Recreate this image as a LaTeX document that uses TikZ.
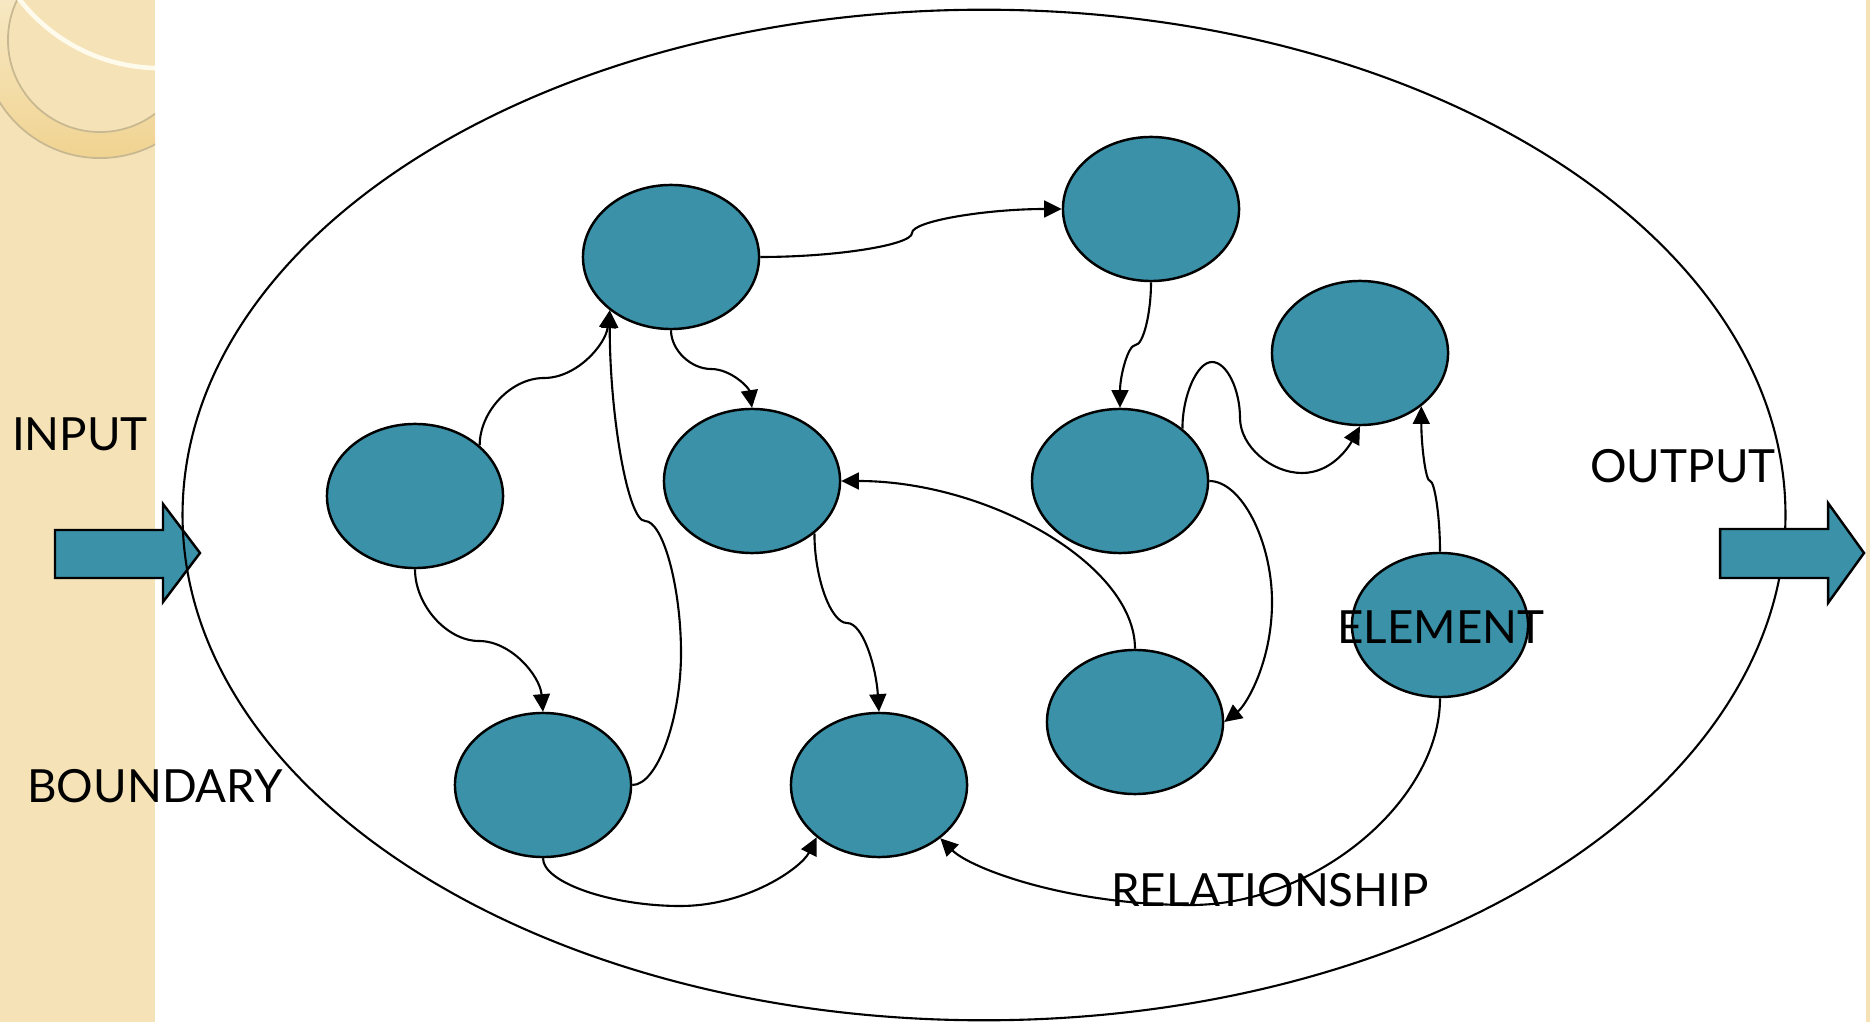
\documentclass[tikz,border=0pt]{standalone}
\usepackage{fontspec}
\setmainfont{Lato}
\usetikzlibrary{shapes.geometric,arrows.meta}
\definecolor{tealfill}{RGB}{58,145,168}
\definecolor{stripbeige}{RGB}{245,227,183}
\definecolor{ringgold}{RGB}{240,211,145}
\definecolor{ringlight}{RGB}{251,243,220}
\definecolor{ringedge}{RGB}{200,184,146}
\definecolor{arcwhite}{RGB}{255,251,236}
\tikzset{
  elem/.style={ellipse, draw=black, line width=0.7pt, fill=tealfill,
    minimum width=1.76cm, minimum height=1.44cm, inner sep=0pt},
  conn/.style={line width=0.6pt, -{Triangle[length=5pt,width=4.8pt]}},
  lbl/.style={inner sep=0pt, font=\fontsize{13}{15}\selectfont},
  blockarrow/.style={draw=black, line width=0.7pt, fill=tealfill, line join=miter}
}
\begin{document}
\begin{tikzpicture}[x=0.01cm, y=-0.01cm]
\useasboundingbox (0,0) rectangle (1870,1022);
% left decorative strip
\begin{scope}
  \clip (0,0) rectangle (155,1022);
  \fill[stripbeige] (0,0) rectangle (155,1022);
  \shade[even odd rule, top color=ringlight, bottom color=ringgold]
    (100,40) circle (1.18cm) (100,40) circle (0.92cm);
  \draw[ringedge, line width=0.5pt] (100,40) circle (1.18cm);
  \draw[ringedge, line width=0.5pt] (100,40) circle (0.92cm);
  \draw[arcwhite, line width=1.3pt] (160,-110) circle (1.78cm);
\end{scope}
\fill[stripbeige] (1866,0) rectangle (1870,1022);

% input arrow
\draw[blockarrow] (55,530) -- (163,530) -- (163,504) -- (200,553) -- (163,602) -- (163,578) -- (55,578) -- cycle;
% boundary
\draw[line width=0.6pt] (984,515) ellipse (8.01cm and 5.05cm);
% output arrow
\draw[blockarrow] (1720,529) -- (1828,529) -- (1828,503) -- (1864,553) -- (1828,603) -- (1828,578) -- (1720,578) -- cycle;

% elements
\node[elem] (N1) at (671,257) {};
\node[elem] (N2) at (1151,209) {};
\node[elem] (N3) at (1360,353) {};
\node[elem] (N4) at (415,496) {};
\node[elem] (N5) at (752,481) {};
\node[elem] (N6) at (1120,481) {};
\node[elem] (N7) at (1440,625) {};
\node[elem] (N8) at (1135,722) {};
\node[elem] (N9) at (543,785) {};
\node[elem] (N10) at (879,785) {};

% bend points
\coordinate (m1) at (912,233);
\coordinate (m2) at (711,369);
\coordinate (m3) at (544,378);
\coordinate (m4) at (479,641);
\coordinate (m5a) at (681,653);
\coordinate (m5b) at (645,521);
\coordinate (m6) at (847,623);
\coordinate (m7) at (1135.5,345);
\coordinate (m8a) at (1212,362);
\coordinate (m8b) at (1240,418);
\coordinate (m8c) at (1302,473);
\coordinate (m9) at (1272,602);
\coordinate (m11) at (1430,481);
\coordinate (m12) at (1191,905);
\coordinate (m13) at (680,906);

% relationships
\draw[conn] (N1.east) .. controls +(76,0) and +(0,12) .. (m1) .. controls +(0,-12) and +(-75,0) .. (N2.west);
\draw[conn] (N1.south) .. controls +(0,20) and +(-20,0) .. (m2) .. controls +(20,0) and +(-3,-20) .. (N5.north);
\draw[conn] (N4.38) .. controls +(0,-34) and +(-33,0) .. (m3) .. controls +(33,0) and +(-4,34) .. (N1.221);
\draw[conn] (N4.south) .. controls +(0,36) and +(-32,0) .. (m4) .. controls +(32,0) and +(-3,-36) .. (N9.north);
\draw[conn] (N9.east) .. controls +(25,0) and +(0,66) .. (m5a) .. controls +(0,-66) and +(18,0) .. (m5b) .. controls +(-17,0) and +(0,106) .. (N1.221);
\draw[conn] (N5.-40) .. controls +(0,45) and +(-16,0) .. (m6) .. controls +(16,0) and +(-3,-45) .. (N10.north);
\draw[conn] (N2.south) .. controls +(0,32) and +(7.5,0) .. (m7) .. controls +(-7.5,0) and +(0,-32) .. (N6.north);
\draw[conn] (N6.40) .. controls +(0,-33) and +(-15,0) .. (m8a) .. controls +(15,0) and +(0,-28) .. (m8b) .. controls +(0,28) and +(-31,0) .. (m8c) .. controls +(29,0) and +(-12,22) .. (N3.south);
\draw[conn] (N6.east) .. controls +(32,0) and +(0,-61) .. (m9) .. controls +(0,60) and +(22,-17) .. (N8.east);
\draw[conn] (N8.north) .. controls +(0,-84) and +(147,0) .. (N5.east);
\draw[conn] (N7.north) .. controls +(0,-36) and +(4.5,0) .. (m11) .. controls +(-4.5,0) and +(0,38) .. (N3.-41);
\draw[conn] (N7.south) .. controls +(0,103) and +(124,0) .. (m12) .. controls +(-124,0) and +(30,30) .. (N10.-41);
\draw[conn] (N9.south) .. controls +(0,24.5) and +(-68,0) .. (m13) .. controls +(68,0) and +(-15,30) .. (N10.220);

% labels
\node[lbl] (tin) at (80,434) {INPUT};
\node[lbl] (tbound) at (155,786) {BOUNDARY};
\node[lbl] (tout) at (1683,466) {OUTPUT};
\node[lbl] (telem) at (1441,627) {ELEMENT};
\node[lbl] (trel) at (1270,890) {RELATIONSHIP};
\end{tikzpicture}
\end{document}
